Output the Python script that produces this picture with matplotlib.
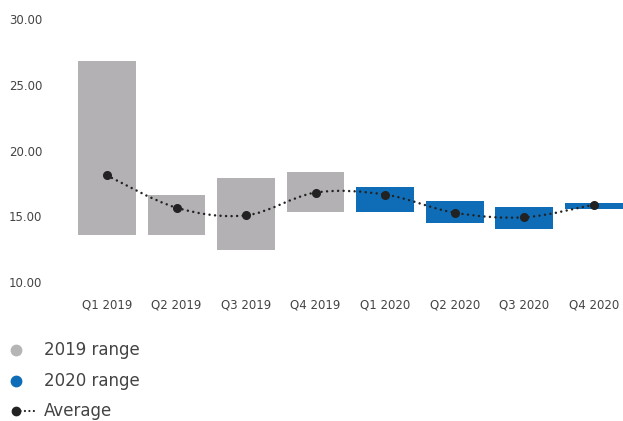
import matplotlib.pyplot as plt
from matplotlib.lines import Line2D
from matplotlib.path import Path
from matplotlib.patches import PathPatch
import numpy as np

quarters = ['Q1 2019', 'Q2 2019', 'Q3 2019', 'Q4 2019',
            'Q1 2020', 'Q2 2020', 'Q3 2020', 'Q4 2020']
low = [13.6, 13.6, 12.4, 15.3, 15.3, 14.45, 14.0, 15.55]
high = [26.8, 16.6, 17.9, 18.35, 17.2, 16.15, 15.7, 16.0]
average = [18.1, 15.65, 15.07, 16.8, 16.65, 15.27, 14.92, 15.88]
years = ['2019'] * 4 + ['2020'] * 4
legend_labels = ['2019 range', '2020 range', 'Average']

grey = '#b3b1b3'
blue = '#0f6db7'
dark = '#222222'
text_col = '#444444'
dots = (0, (0.01, 2.2))

plt.rcParams['font.family'] = 'DejaVu Sans'

fig = plt.figure(figsize=(6.23, 4.21), dpi=100)
ax = fig.add_axes([50 / 623, (421 - 282) / 421, 573 / 623, 263 / 421])

x = np.arange(len(quarters))
colors = [grey if y == '2019' else blue for y in years]
ax.bar(x, np.array(high) - np.array(low), bottom=low, width=0.83, color=colors)

# smoothed average line (Catmull-Rom through the points as cubic Beziers)
pts = np.column_stack([x, average]).astype(float)
verts = [pts[0]]
codes = [Path.MOVETO]
for i in range(len(pts) - 1):
    p0 = pts[i - 1] if i > 0 else pts[i]
    p1 = pts[i]
    p2 = pts[i + 1]
    p3 = pts[i + 2] if i + 2 < len(pts) else pts[i + 1]
    c1 = p1 + (p2 - p0) / 6
    c2 = p2 - (p3 - p1) / 6
    verts += [c1, c2, p2]
    codes += [Path.CURVE4] * 3
ax.add_patch(PathPatch(Path(verts, codes), facecolor='none', edgecolor=dark,
                       lw=1.8, linestyle=dots, capstyle='round'))
ax.plot(x, average, 'o', color=dark, markersize=5.5, zorder=3)

ax.set_xlim(-0.82, 7.42)
ax.set_ylim(10, 30)
ax.set_yticks([10, 15, 20, 25, 30])
ax.set_yticklabels(['%.2f' % v for v in [10, 15, 20, 25, 30]])
ax.set_xticks(x)
ax.set_xticklabels(quarters)
ax.tick_params(length=0, labelsize=8.5, colors=text_col)
ax.tick_params(axis='y', pad=5.5)
ax.tick_params(axis='x', pad=12)
for s in ax.spines.values():
    s.set_visible(False)

# legend drawn by hand in figure coordinates
row_y = [350, 381, 411]
tf = fig.transFigure
for label, yp, kind in zip(legend_labels, row_y, ['2019', '2020', 'avg']):
    fy = 1 - yp / 421
    if kind == 'avg':
        fig.add_artist(Line2D([16 / 623, 38 / 623], [fy, fy], transform=tf,
                              color=dark, lw=1.6, linestyle=(0, (0.01, 2.0)),
                              solid_capstyle='round', dash_capstyle='round'))
        fig.add_artist(Line2D([16 / 623], [fy], transform=tf, marker='o',
                              color=dark, markersize=6))
    else:
        c = '#b5b5b5' if kind == '2019' else blue
        fig.add_artist(Line2D([16 / 623], [fy], transform=tf, marker='o',
                              linestyle='none', color=c, markersize=7.5))
    fig.text(44 / 623, fy, label, fontsize=12, color=text_col, va='center')

fig.savefig('out.png', dpi=100)
